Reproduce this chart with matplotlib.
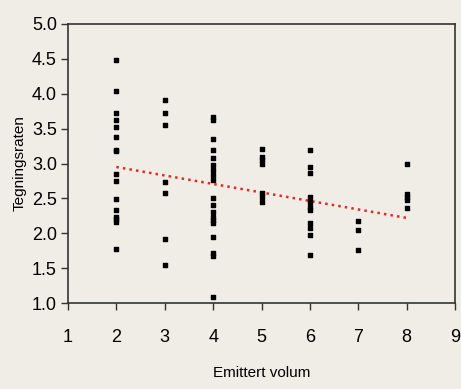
import matplotlib.pyplot as plt
import numpy as np

plt.rcParams['font.family'] = ['Liberation Sans Narrow', 'Liberation Sans', 'DejaVu Sans']

# Emittert volum (x) and Tegningsraten (y)
volum = [2]*16 + [3]*7 + [4]*19 + [5]*7 + [6]*11 + [7]*3 + [8]*5
rate = [4.48, 4.04, 3.73, 3.62, 3.52, 3.38, 3.20, 3.18, 2.85, 2.75, 2.49, 2.33, 2.23, 2.16, 2.20, 1.77,
        3.91, 3.72, 3.55, 2.73, 2.57, 1.92, 1.54,
        3.67, 3.63, 3.35, 3.19, 3.08, 2.98, 2.91, 2.84, 2.77, 2.50, 2.40, 2.31, 2.24, 2.19, 2.14, 1.95, 1.72, 1.68, 1.09,
        3.21, 3.10, 3.05, 3.00, 2.57, 2.52, 2.45,
        3.19, 2.95, 2.86, 2.52, 2.45, 2.38, 2.33, 2.14, 2.07, 1.97, 1.69,
        2.18, 2.05, 1.76,
        2.99, 2.56, 2.52, 2.47, 2.36]
trend_x = [2, 8]
trend_y = [2.95, 2.22]

bg = '#f0ede6'
fig = plt.figure(figsize=(4.61, 3.89), dpi=100, facecolor=bg)
ax = fig.add_axes([68/461, 1 - 303/389, 387/461, 279/389], facecolor=bg)

ax.scatter(volum, rate, marker='s', s=10, color='black', zorder=3)
ax.plot(trend_x, trend_y, color='#e8262a', linestyle=':', linewidth=1.8, zorder=2)

ax.set_xlim(1, 9)
ax.set_ylim(1.0, 5.0)
ax.set_xticks(range(1, 10))
ax.set_yticks(np.arange(1.0, 5.01, 0.5))
ax.set_yticklabels([f'{v:.1f}' for v in np.arange(1.0, 5.01, 0.5)])
ax.tick_params(direction='out', length=5, width=1, labelsize=13, color='#333333')
ax.tick_params(axis='x', pad=14)
ax.tick_params(axis='y', pad=3)
for s in ax.spines.values():
    s.set_color('#333333')
    s.set_linewidth(1.2)

ax.set_xlabel('Emittert volum', fontsize=11, labelpad=14)
ax.set_ylabel('Tegningsraten', fontsize=11, labelpad=4)

fig.savefig('out.png', dpi=100, facecolor=bg)
